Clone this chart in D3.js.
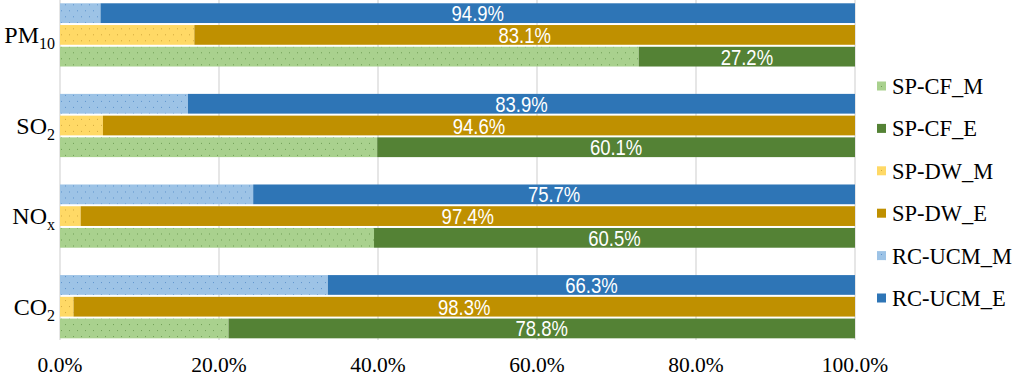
<!DOCTYPE html>
<html><head><meta charset="utf-8">
<script src="https://cdn.jsdelivr.net/npm/d3@7"></script>
<style>body{margin:0;background:#fff}svg{display:block}</style>
</head><body>
<svg id="c" width="1016" height="377"></svg>
<script>
// ---- data ----
const categories = ["PM10", "SO2", "NOx", "CO2"];
const catMain = ["PM", "SO", "NO", "CO"];
const catSub = ["10", "2", "x", "2"];
const methods = ["RC-UCM", "SP-DW", "SP-CF"]; // top to bottom inside a group
const eValues = {
  "RC-UCM": [94.9, 83.9, 75.7, 66.3],
  "SP-DW":  [83.1, 94.6, 97.4, 98.3],
  "SP-CF":  [27.2, 60.1, 60.5, 78.8]
};
const xTicks = [0, 20, 40, 60, 80, 100];
const legendItems = ["SP-CF_M", "SP-CF_E", "SP-DW_M", "SP-DW_E", "RC-UCM_M", "RC-UCM_E"];

// ---- styles ----
const colE = {"RC-UCM": "#2E75B6", "SP-DW": "#BF9000", "SP-CF": "#548235"};
const colM = {"RC-UCM": "#9DC3E6", "SP-DW": "#FFD966", "SP-CF": "#A9D18E"};
const colDot = {"RC-UCM": "#5E93CC", "SP-DW": "#D2A93E", "SP-CF": "#6F9E55"};
const serif = "'Liberation Serif', 'Times New Roman', serif";
const sans = "'Liberation Sans', Arial, sans-serif";

const svg = d3.select("#c");
const defs = svg.append("defs");
methods.forEach(m => {
  const p = defs.append("pattern").attr("id", "pat-" + m)
    .attr("patternUnits", "userSpaceOnUse").attr("width", 8).attr("height", 12);
  p.append("rect").attr("width", 8).attr("height", 12).attr("fill", colM[m]);
  p.append("rect").attr("x", 1).attr("y", 2).attr("width", 1).attr("height", 1).attr("fill", colDot[m]);
  p.append("rect").attr("x", 5).attr("y", 8).attr("width", 1).attr("height", 1).attr("fill", colDot[m]);
});

const x = d3.scaleLinear().domain([0, 100]).range([60, 855]);
const y = d3.scaleBand().domain(categories).range([-10.4, 352]).paddingInner(0.28).paddingOuter(0.14);
const yi = d3.scaleBand().domain(methods).range([0, y.bandwidth()]);
const gap = 2;

// gridlines
svg.append("g").selectAll("line").data(xTicks).join("line")
  .attr("x1", d => x(d)).attr("x2", d => x(d))
  .attr("y1", 0).attr("y2", 340)
  .attr("stroke", "#D9D9D9").attr("stroke-width", 1.3);

// bars
const groups = svg.append("g").selectAll("g").data(categories).join("g")
  .attr("transform", c => `translate(0,${y(c)})`);
groups.each(function(c, ci) {
  const g = d3.select(this);
  methods.forEach(m => {
    const e = eValues[m][ci];
    const mv = 100 - e;
    const by = yi(m) + gap / 2;
    const bh = yi.bandwidth() - gap;
    g.append("rect").attr("x", x(0)).attr("y", by)
      .attr("width", x(mv) - x(0)).attr("height", bh)
      .attr("fill", `url(#pat-${m})`);
    g.append("rect").attr("x", x(mv)).attr("y", by)
      .attr("width", x(100) - x(mv)).attr("height", bh)
      .attr("fill", colE[m]);
    g.append("text")
      .attr("transform", `translate(${(x(mv) + x(100)) / 2},${by + bh / 2 + 8}) scale(1,1.2)`)
      .attr("text-anchor", "middle")
      .attr("font-family", sans)
      .attr("font-size", 18.5).attr("fill", "#fff")
      .text(e.toFixed(1) + "%");
  });
});

// category labels
categories.forEach((c, i) => {
  const t = svg.append("text")
    .attr("x", 55).attr("y", y(c) + yi("SP-DW") + yi.bandwidth() / 2 + 8)
    .attr("text-anchor", "end")
    .attr("font-family", serif)
    .attr("font-size", 24).attr("fill", "#000");
  t.append("tspan").text(catMain[i]);
  t.append("tspan").attr("font-size", 16).attr("dy", 6).text(catSub[i]);
});

// x axis labels
svg.append("g").selectAll("text").data(xTicks).join("text")
  .attr("x", d => x(d)).attr("y", 372)
  .attr("text-anchor", "middle")
  .attr("font-family", serif)
  .attr("font-size", 21.5).attr("fill", "#000")
  .text(d => d.toFixed(1) + "%");

// legend
const lg = svg.append("g");
legendItems.forEach((name, i) => {
  const [m, kind] = name.split("_");
  const ly = 86 + i * 42.4;
  lg.append("rect").attr("x", 877).attr("y", ly - 4.5).attr("width", 9).attr("height", 9)
    .attr("fill", kind === "M" ? `url(#pat-${m})` : colE[m]);
  lg.append("text").attr("x", 892).attr("y", ly + 8)
    .attr("font-family", serif)
    .attr("font-size", 22.5).attr("fill", "#000").text(name);
});
</script>
</body></html>
